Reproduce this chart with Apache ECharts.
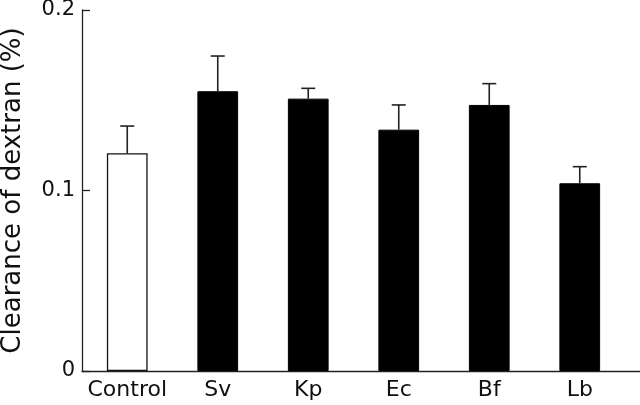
<!DOCTYPE html>
<html><head><meta charset="utf-8">
<script src="https://cdn.jsdelivr.net/npm/echarts@6/dist/echarts.min.js"></script>
<style>html,body{margin:0;padding:0;background:#fff}#c{width:640px;height:405px}</style>
</head><body><div id="c"></div>
<script>
const categories = ['Control', 'Sv', 'Kp', 'Ec', 'Bf', 'Lb'];
const means = [0.1206, 0.155, 0.1509, 0.1337, 0.1474, 0.104];
const errors = [0.0151, 0.0195, 0.0057, 0.0137, 0.0118, 0.0092];
const yTicks = [0, 0.1, 0.2];

const chart = echarts.init(document.getElementById('c'), null, {renderer: 'canvas'});
const font = 'DejaVu Sans';
chart.setOption({
  animation: false,
  grid: [
    {left: 82, right: 15, top: 10, bottom: 34, containLabel: false, outerBoundsMode: 'none'},
    {left: 82, right: 0, top: 10, bottom: 34, containLabel: false, outerBoundsMode: 'none'}
  ],
  xAxis: [
    {type: 'category', gridIndex: 0, data: categories,
     axisLine: {show: false}, axisTick: {show: false},
     axisLabel: {color: '#111', fontFamily: font, fontSize: 22, margin: 8, interval: 0}},
    {type: 'value', gridIndex: 1, min: 0, max: 1, show: true,
     axisLine: {show: true, lineStyle: {color: '#222', width: 1.3}},
     axisTick: {show: false}, axisLabel: {show: false}, splitLine: {show: false}}
  ],
  yAxis: [
    {type: 'value', gridIndex: 0, min: 0, max: 0.2, interval: 0.1,
     axisLine: {show: true, lineStyle: {color: '#222', width: 1.3}},
     axisTick: {show: true, inside: true, length: 8, lineStyle: {color: '#222', width: 1.3}},
     splitLine: {show: false},
     axisLabel: {color: '#111', fontFamily: font, fontSize: 21, margin: 7,
       formatter: v => { const t = yTicks.find(x => Math.abs(x - v) < 1e-9); return t === 0 ? '0' : String(t); }},
     name: 'Clearance of dextran (%)', nameLocation: 'middle', nameGap: 56,
     nameTextStyle: {color: '#111', fontFamily: font, fontSize: 26}},
    {type: 'value', gridIndex: 1, min: 0, max: 1, show: false}
  ],
  series: [
    {type: 'bar', xAxisIndex: 0, yAxisIndex: 0, barWidth: '45%',
     data: means.map((v, i) => ({value: v, itemStyle: i === 0
        ? {color: '#fff', borderColor: '#111', borderWidth: 1.3}
        : {color: '#000', borderColor: '#000', borderWidth: 1}})),
     z: 2},
    {type: 'custom', xAxisIndex: 0, yAxisIndex: 0, z: 3,
     data: means.map((v, i) => [i, v, v + errors[i]]),
     renderItem: (params, api) => {
       const base = api.coord([api.value(0), api.value(1)]);
       const top = api.coord([api.value(0), api.value(2)]);
       const hw = 7;
       const st = {stroke: '#222', lineWidth: 1.6, fill: null};
       return {type: 'group', children: [
         {type: 'line', shape: {x1: base[0], y1: base[1], x2: top[0], y2: top[1]}, style: st},
         {type: 'line', shape: {x1: top[0] - hw, y1: top[1], x2: top[0] + hw, y2: top[1]}, style: st}
       ]};
     }}
  ]
});
</script></body></html>
